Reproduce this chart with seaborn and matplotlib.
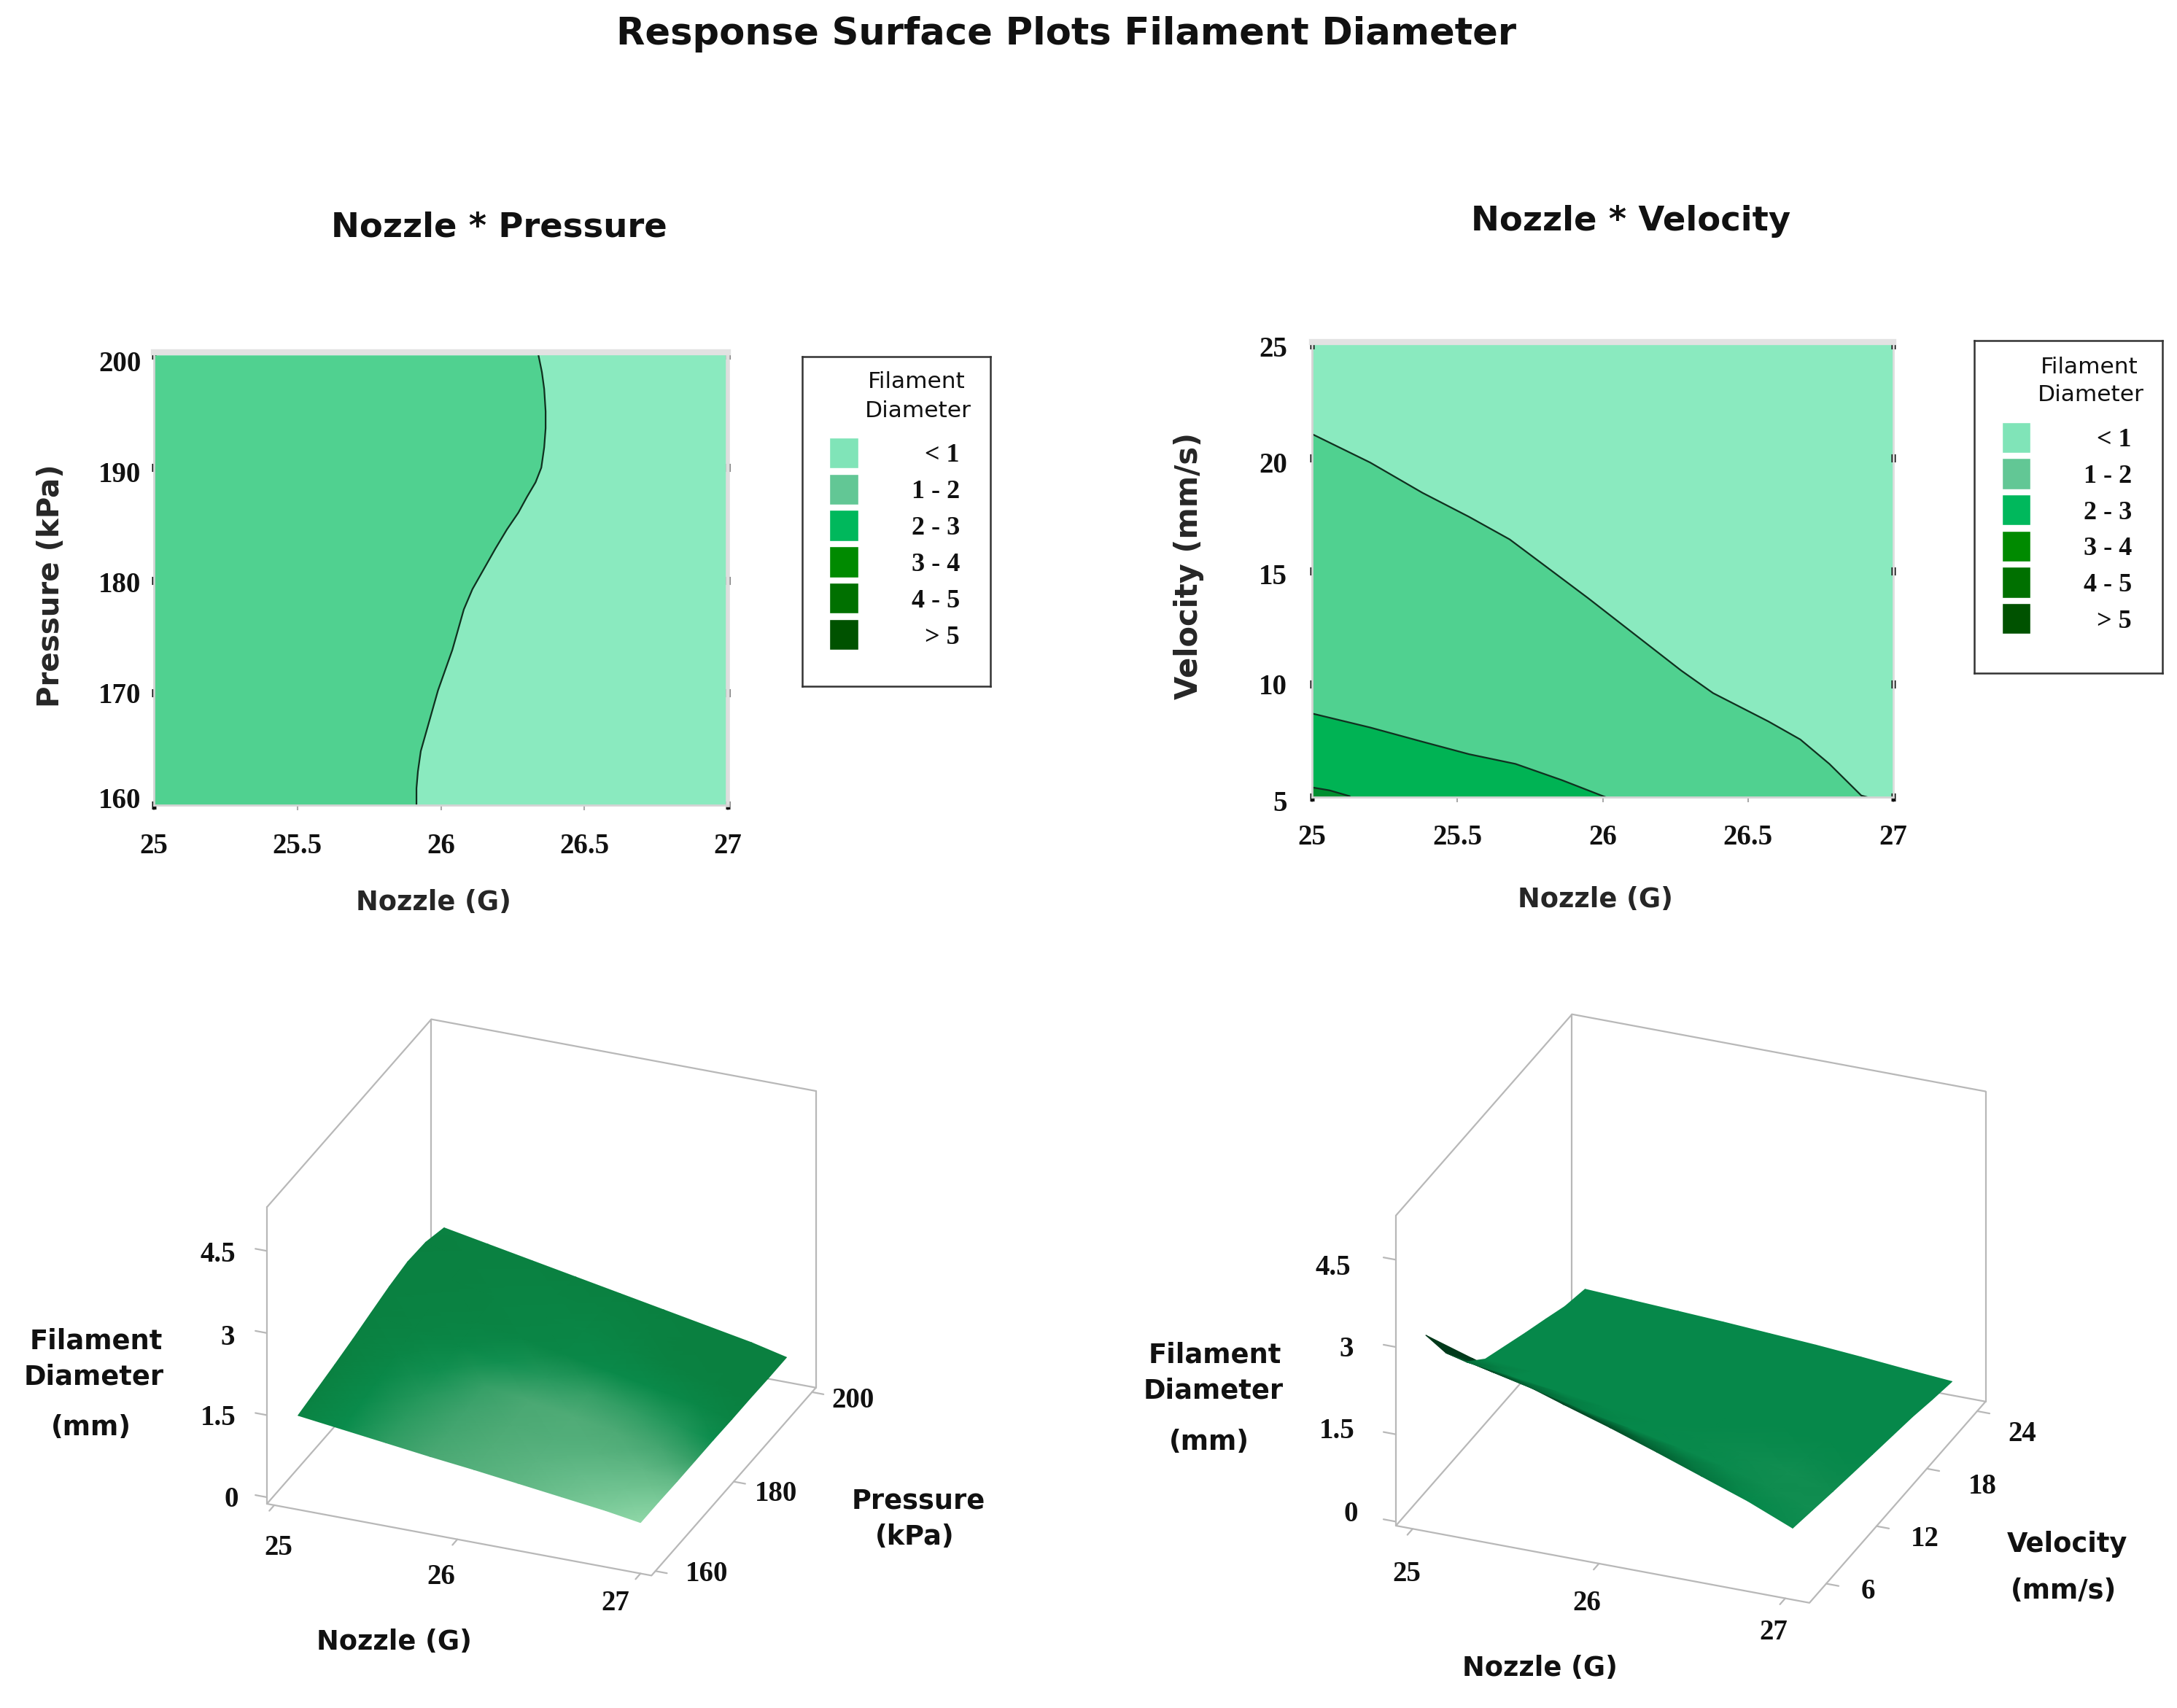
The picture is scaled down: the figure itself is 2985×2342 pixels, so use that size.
import numpy as np
import matplotlib
matplotlib.use("Agg")
import matplotlib.pyplot as plt
import seaborn as sns
from matplotlib.transforms import Affine2D
from mpl_toolkits.mplot3d import proj3d

# contour boundaries
pressure_levels = [200, 198.5, 197, 195, 193.5, 191.8, 190, 188.7, 187.4, 186, 184.5, 182.8, 181, 179.2, 177.4,
                   175.6, 173.8, 172, 170.2, 168.4, 166.6, 164.8, 163, 161.5, 160]
nozzle_1mm = [26.34, 26.352, 26.36, 26.365, 26.365, 26.36, 26.35, 26.33, 26.30, 26.27, 26.23, 26.19, 26.15, 26.11,
              26.08, 26.06, 26.04, 26.015, 25.99, 25.97, 25.95, 25.93, 25.92, 25.915, 25.915]

nozzle_v1 = [25, 25.2, 25.38, 25.54, 25.68, 25.81, 25.95, 26.11, 26.27, 26.38, 26.57, 26.68, 26.78, 26.89, 26.91]
velocity_1mm = [21.06, 19.8, 18.46, 17.4, 16.4, 15.15, 13.8, 12.2, 10.6, 9.6, 8.35, 7.55, 6.47, 5.07, 5]
nozzle_v2 = [25, 25.2, 25.38, 25.54, 25.7, 25.86, 26.01]
velocity_2mm = [8.7, 8.08, 7.45, 6.9, 6.47, 5.75, 5]
nozzle_v3 = [25, 25.06, 25.13]
velocity_3mm = [5.43, 5.3, 5.04]

# legend
band_labels = ["< 1", "1 - 2", "2 - 3", "3 - 4", "4 - 5", "> 5"]
band_colors = ["#80e4b8", "#62c795", "#00b85c", "#008a00", "#007000", "#005200"]
band_values = [1, 1, 1, 1, 1, 1]

nozzle_ticks = [25, 25.5, 26, 26.5, 27]
nozzle_labels = ["25", "25.5", "26", "26.5", "27"]
pressure_ticks = [160, 170, 180, 190, 200]
velocity_ticks = [5, 10, 15, 20, 25]

# surface: nozzle * pressure
surf_nozzle_p = [25.13, 25.37, 25.61, 25.85, 26.09, 26.33, 26.57, 26.81, 27.0]
surf_pressure = [159, 163.7, 168.3, 173, 177.6, 182.3, 187, 191.6, 196.3]
surf_height_p = [
    [1.60, 1.50, 1.40, 1.30, 1.21, 1.11, 1.01, 0.91, 0.81],
    [1.68, 1.57, 1.46, 1.35, 1.25, 1.14, 1.03, 0.92, 0.81],
    [1.76, 1.64, 1.52, 1.40, 1.28, 1.16, 1.04, 0.92, 0.80],
    [1.85, 1.72, 1.59, 1.45, 1.32, 1.19, 1.06, 0.93, 0.80],
    [1.95, 1.80, 1.65, 1.51, 1.37, 1.23, 1.08, 0.94, 0.80],
    [2.05, 1.89, 1.73, 1.57, 1.42, 1.26, 1.10, 0.95, 0.79],
    [2.12, 1.95, 1.78, 1.61, 1.45, 1.28, 1.12, 0.95, 0.79],
    [2.10, 1.93, 1.77, 1.60, 1.44, 1.27, 1.11, 0.94, 0.78],
    [1.98, 1.83, 1.68, 1.53, 1.38, 1.23, 1.08, 0.93, 0.78],
]
surf_shade_p = [
    [0.06, 0.25, 0.40, 0.50, 0.58, 0.66, 0.76, 0.88, 1.00],
    [0.04, 0.22, 0.38, 0.48, 0.55, 0.62, 0.70, 0.78, 0.86],
    [0.03, 0.18, 0.35, 0.46, 0.52, 0.56, 0.60, 0.66, 0.68],
    [0.03, 0.12, 0.28, 0.42, 0.50, 0.54, 0.52, 0.48, 0.42],
    [0.02, 0.06, 0.14, 0.28, 0.36, 0.42, 0.40, 0.34, 0.26],
    [0.02, 0.04, 0.06, 0.10, 0.14, 0.20, 0.20, 0.14, 0.08],
    [0.02, 0.03, 0.06, 0.08, 0.12, 0.10, 0.05, 0.02, 0.00],
    [0.01, 0.02, 0.04, 0.06, 0.07, 0.04, 0.01, 0.00, 0.00],
    [0.02, 0.02, 0.02, 0.02, 0.02, 0.01, 0.00, 0.00, 0.00],
]

# surface: nozzle * velocity
surf_nozzle_v = [25.07, 25.32, 25.57, 25.81, 26.06, 26.31, 26.55, 26.80, 27.04]
surf_velocity = [4, 6.4, 8.8, 11.1, 13.5, 15.9, 18.3, 20.6, 23]
surf_height_v = [
    [3.30, 3.05, 2.80, 2.55, 2.30, 2.03, 1.76, 1.48, 1.16],
    [2.60, 2.42, 2.24, 2.06, 1.90, 1.73, 1.55, 1.33, 1.08],
    [2.05, 1.95, 1.84, 1.73, 1.62, 1.50, 1.36, 1.19, 1.00],
    [1.72, 1.66, 1.58, 1.50, 1.42, 1.32, 1.21, 1.08, 0.93],
    [1.55, 1.49, 1.42, 1.35, 1.27, 1.18, 1.08, 0.98, 0.86],
    [1.38, 1.33, 1.27, 1.21, 1.14, 1.06, 0.98, 0.89, 0.79],
    [1.22, 1.18, 1.13, 1.08, 1.02, 0.96, 0.88, 0.80, 0.72],
    [1.06, 1.03, 0.99, 0.95, 0.90, 0.85, 0.79, 0.71, 0.63],
    [0.96, 0.92, 0.88, 0.84, 0.79, 0.74, 0.68, 0.61, 0.55],
]
surf_shade_v = [
    [0.00, 0.00, 0.02, 0.05, 0.12, 0.25, 0.38, 0.50, 0.58],
    [0.00, 0.08, 0.30, 0.45, 0.50, 0.52, 0.56, 0.62, 0.66],
    [0.30, 0.50, 0.50, 0.50, 0.50, 0.52, 0.58, 0.66, 0.62],
    [0.50, 0.50, 0.50, 0.50, 0.50, 0.50, 0.54, 0.56, 0.54],
    [0.50, 0.50, 0.50, 0.50, 0.50, 0.50, 0.50, 0.50, 0.50],
    [0.50, 0.50, 0.50, 0.50, 0.50, 0.50, 0.50, 0.50, 0.50],
    [0.50, 0.50, 0.50, 0.50, 0.50, 0.50, 0.50, 0.50, 0.50],
    [0.50, 0.50, 0.50, 0.50, 0.50, 0.50, 0.50, 0.50, 0.50],
    [0.50, 0.50, 0.50, 0.50, 0.50, 0.50, 0.50, 0.50, 0.50],
]

W, H = 2985, 2342
NUM_FONT = ["Liberation Serif", "DejaVu Serif"]
sns.set_theme(style="white")
plt.rcParams["font.family"] = ["DejaVu Sans"]
plt.rcParams["text.color"] = "#111111"

fig = plt.figure(figsize=(W / 100, H / 100), dpi=100, facecolor="white")
# everything below is placed in reference pixels, y going down
px = Affine2D().scale(1, -1).translate(0, H)


def rect(x0, y0, x1, y1):
    return [x0 / W, 1 - y1 / H, (x1 - x0) / W, (y1 - y0) / H]


def put(x, y, s, size=26.5, weight="bold", **kw):
    fig.text(x, y, s, transform=px, ha="center", va="center", fontsize=size, fontweight=weight, **kw)


def style_flat(ax, xlabel_at, ylabel, ylabel_at, yticks, ypad, ysize, right_lw, label_shift):
    # set_position resets the ticks of that axis, so it has to come before the tick styling
    ax.spines["top"].set_position(("outward", 3))
    ax.set_xlim(25, 27)
    ax.set_ylim(yticks[0], yticks[-1])
    ax.set_xticks(nozzle_ticks, nozzle_labels)
    ax.set_yticks(yticks)
    ax.tick_params(axis="x", bottom=True, length=5, width=1.5, color="#aaaaaa", pad=22, labelsize=28)
    ax.tick_params(axis="y", left=True, right=True, direction="inout", length=5, width=8,
                   color="#111111", pad=ypad, labelsize=28)
    for t in ax.xaxis.get_major_ticks() + ax.yaxis.get_major_ticks():
        t.label1.set(family=NUM_FONT, fontweight="bold", fontsize=28, color="#111111")
    for t, dy in zip(ax.yaxis.get_major_ticks(), label_shift):
        t.label1.set_transform(t.label1.get_transform() + Affine2D().translate(0, -dy))
    for side in ["left", "bottom"]:
        ax.spines[side].set(color="#d4d4d4", linewidth=2)
    ax.spines["right"].set(color="#dedede", linewidth=right_lw)
    ax.spines["top"].set(color="#e2e2e2", linewidth=6)
    ax.set_xlabel("Nozzle (G)", fontsize=26.5, fontweight="bold")
    ax.set_ylabel(ylabel, fontsize=ysize, fontweight="bold")
    ax.xaxis.set_label_coords(xlabel_at[0], xlabel_at[1], transform=px)
    ax.yaxis.set_label_coords(ylabel_at[0], ylabel_at[1], transform=px)
    ax.xaxis.label.set_va("center")
    ax.yaxis.label.set_va("center")


def band_legend(box, keys, title_at):
    bg = fig.add_axes(rect(*box))
    bg.set(xticks=[], yticks=[], facecolor="white")
    for s in bg.spines.values():
        s.set(color="#333333", linewidth=1.8)
    key = fig.add_axes(rect(*keys))
    sns.barplot(y=band_labels, x=band_values, hue=band_labels, palette=band_colors,
                width=0.85, legend=False, ax=key, saturation=1)
    key.set(xlim=(0, 1), xlabel="", ylabel="", xticks=[])
    key.patch.set_alpha(0)
    sns.despine(ax=key, left=True, bottom=True)
    key.yaxis.tick_right()
    key.tick_params(axis="y", right=False, length=0, pad=100)
    for t in key.yaxis.get_major_ticks():
        t.label2.set(ha="right", family=NUM_FONT, fontweight="bold", fontsize=26, color="#111111")
    put(title_at[0], title_at[1], "Filament", size=22.5, weight="normal")
    put(title_at[0] + 2, title_at[1] + 39, "Diameter", size=22.5, weight="normal")


def fit_box(ax, lims, p0, p1):
    # move the 3d axes so the front floor edge lands on the reference pixels
    xl, yl, zl = lims
    p0 = np.array([p0[0], H - p0[1]], float)
    p1 = np.array([p1[0], H - p1[1]], float)

    def corners():
        fig.canvas.draw()
        m = ax.get_proj()
        a = ax.transData.transform(proj3d.proj_transform(xl[0], yl[0], zl[0], m)[:2])
        b = ax.transData.transform(proj3d.proj_transform(xl[1], yl[0], zl[0], m)[:2])
        return a, b

    a, b = corners()
    k = np.linalg.norm(p1 - p0) / np.linalg.norm(b - a)
    pos = ax.get_position(original=True)
    ax.set_position([pos.x0, pos.y0, pos.width * k, pos.height * k])
    a, b = corners()
    pos = ax.get_position(original=True)
    ax.set_position([pos.x0 + (p0[0] - a[0]) / W, pos.y0 + (p0[1] - a[1]) / H, pos.width, pos.height])


def surface_panel(lims, aspect, zticks, yticks, p0, p1, tick=0.03):
    xl, yl, zl = lims
    ax = fig.add_axes([0.3, 0.3, 1000 / W, 1000 / H], projection="3d", proj_type="ortho",
                      computed_zorder=False)
    ax.view_init(elev=27.5, azim=-68)
    ax.set_box_aspect(aspect)
    ax.set_xlim(xl)
    ax.set_ylim(yl)
    ax.set_zlim(zl)
    ax.set_axis_off()
    ax.patch.set_alpha(0)

    edge = dict(color="#b8b8b8", linewidth=1.6, zorder=1)
    # floor and back walls, the front vertical and front top edges are left out
    ax.plot([xl[0], xl[1], xl[1], xl[0], xl[0]], [yl[0], yl[0], yl[1], yl[1], yl[0]], zl[0], **edge)
    ax.plot([xl[0], xl[0], xl[1]], [yl[0], yl[1], yl[1]], zl[1], **edge)
    for x, y in [(xl[0], yl[0]), (xl[0], yl[1]), (xl[1], yl[1])]:
        ax.plot([x, x], [y, y], zl, **edge)
    dx = (xl[1] - xl[0]) * tick
    dy = (yl[1] - yl[0]) * tick
    for z in zticks:
        ax.plot([xl[0], xl[0] - dx], [yl[0], yl[0]], z, **edge)
    for x in [25, 26, 27]:
        ax.plot([x, x], [yl[0], yl[0] - dy], zl[0], **edge)
    for y in yticks:
        ax.plot([xl[1], xl[1] + dx], [y, y], zl[0], **edge)
    fit_box(ax, lims, p0, p1)
    return ax


def shade_surface(ax3d, overlay, nozzle, other, height, shade, cmap):
    # gouraud mesh on the projected grid gives the smooth shading of the original
    fig.canvas.draw()
    X, Y = np.meshgrid(nozzle, other)
    Z = np.array(height)
    xs, ys, _ = proj3d.proj_transform(X.ravel(), Y.ravel(), Z.ravel(), ax3d.get_proj())
    pts = ax3d.transData.transform(np.c_[xs, ys])
    overlay.pcolormesh(pts[:, 0].reshape(X.shape), pts[:, 1].reshape(X.shape), np.array(shade),
                       shading="gouraud", cmap=cmap, vmin=0, vmax=1)


# title row
put(1462, 47, "Response Surface Plots Filament Diameter", size=36.8)
put(684, 312, "Nozzle * Pressure", size=33.5)
put(2236, 303, "Nozzle * Velocity", size=33.5)

# flat panel, nozzle * pressure
ax1 = fig.add_axes(rect(211, 487, 998, 1104))
ax1.set_facecolor("#8aeabf")
ax1.fill_betweenx(pressure_levels, 25, nozzle_1mm, color="#50d190", linewidth=0)
sns.lineplot(x=nozzle_1mm, y=pressure_levels, sort=False, orient="y", estimator=None,
             color="#10301f", linewidth=1.6, ax=ax1)
style_flat(ax1, (594, 1238), "Pressure (kPa)", (70, 803), pressure_ticks, 10, 29, 4,
           [-10, 0, 3, 6, 8])
band_legend((1100, 489, 1358, 941), (1137, 596, 1177, 895), (1257, 524))

# flat panel, nozzle * velocity
ax2 = fig.add_axes(rect(1799, 473, 2596, 1093))
ax2.set_facecolor("#8aeabf")
ax2.fill_between(nozzle_v1, 5, velocity_1mm, color="#50d190", linewidth=0)
ax2.fill_between(nozzle_v2, 5, velocity_2mm, color="#00b354", linewidth=0)
ax2.fill_between(nozzle_v3, 5, velocity_3mm, color="#008f30", linewidth=0)
for xs, ys in [(nozzle_v1, velocity_1mm), (nozzle_v2, velocity_2mm), (nozzle_v3, velocity_3mm)]:
    sns.lineplot(x=xs, y=ys, sort=False, estimator=None, color="#10301f", linewidth=1.6, ax=ax2)
style_flat(ax2, (2187, 1234), "Velocity (mm/s)", (1630, 776), velocity_ticks, 22, 30, 2,
           [5, 0, 4, 6, 2])
band_legend((2707, 467, 2965, 923), (2745, 575, 2784, 873), (2865, 503))

# 3d panels
cmap_p = sns.blend_palette(["#0a8040", "#0a8c4c", "#4aa873", "#6cc08e", "#90d8a8"], as_cmap=True)
cmap_v = sns.blend_palette(["#00381a", "#06884a", "#2a9a60"], as_cmap=True)

box_p = surface_panel(((24.96, 27.06), (159, 201), (-0.12, 5.3)), (568, 601, 458),
                      [0, 1.5, 3, 4.5], [160, 180, 200], (366, 2062), (893, 2162))
box_v = surface_panel(((24.91, 27.13), (4, 25), (-0.07, 5.26)), (611, 644, 479),
                      [0, 1.5, 3, 4.5], [6, 12, 18, 24], (1914, 2092), (2481, 2198))

overlay = fig.add_axes([0, 0, 1, 1])
overlay.set_xlim(0, W)
overlay.set_ylim(0, H)
overlay.axis("off")
shade_surface(box_p, overlay, surf_nozzle_p, surf_pressure, surf_height_p, surf_shade_p, cmap_p)
shade_surface(box_v, overlay, surf_nozzle_v, surf_velocity, surf_height_v, surf_shade_v, cmap_v)

for x, y, s in [(299, 1721, "4.5"), (312, 1835, "3"), (299, 1945, "1.5"), (317, 2056, "0"),
                (1170, 1921, "200"), (1064, 2048, "180"), (969, 2159, "160"),
                (382, 2122, "25"), (605, 2163, "26"), (844, 2198, "27"),
                (1828, 1739, "4.5"), (1846, 1851, "3"), (1833, 1963, "1.5"), (1852, 2077, "0"),
                (2773, 1967, "24"), (2718, 2039, "18"), (2639, 2110, "12"), (2561, 2183, "6"),
                (1929, 2159, "25"), (2176, 2199, "26"), (2432, 2239, "27")]:
    put(x, y, s, size=28, family=NUM_FONT)

for x, y, s in [(132, 1839, "Filament"), (129, 1888, "Diameter"), (125, 1958, "(mm)"),
                (540, 2251, "Nozzle (G)"), (1259, 2058, "Pressure"), (1254, 2107, "(kPa)"),
                (1666, 1858, "Filament"), (1664, 1907, "Diameter"), (1658, 1977, "(mm)"),
                (2111, 2287, "Nozzle (G)"), (2835, 2118, "Velocity"), (2830, 2181, "(mm/s)")]:
    put(x, y, s)

fig.savefig("out.png", dpi=100)
